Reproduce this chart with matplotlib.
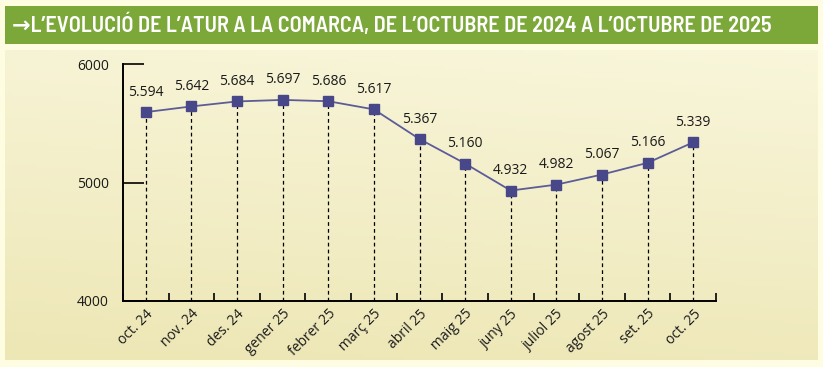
import numpy as np
import matplotlib
matplotlib.use('Agg')
import matplotlib.pyplot as plt
from matplotlib.patches import Rectangle

# data
months = ['oct. 24', 'nov. 24', 'des. 24', 'gener 25', 'febrer 25', 'març 25', 'abril 25',
          'maig 25', 'juny 25', 'juliol 25', 'agost 25', 'set. 25', 'oct. 25']
atur = [5594, 5642, 5684, 5697, 5686, 5617, 5367, 5160, 4932, 4982, 5067, 5166, 5339]
labels = ['5.594', '5.642', '5.684', '5.697', '5.686', '5.617', '5.367',
          '5.160', '4.932', '4.982', '5.067', '5.166', '5.339']
yticks = [4000, 5000, 6000]
title = '\u2192L\u2019EVOLUCI\u00d3 DE L\u2019ATUR A LA COMARCA, DE L\u2019OCTUBRE DE 2024 A L\u2019OCTUBRE DE 2025'

W, H = 823, 367
fig = plt.figure(figsize=(W / 100, H / 100), dpi=100)
fig.patch.set_facecolor('#fefde2')

# green title bar
fig.patches.append(Rectangle((5 / W, 1 - 44 / H), 813 / W, 38 / H, transform=fig.transFigure,
                             facecolor='#7ca83a', edgecolor='none', zorder=0))
fig.text(12 / W, 1 - 25 / H, title, color='white', fontsize=16, fontweight=600,
         family=['Barlow Semi Condensed', 'Barlow Condensed', 'DejaVu Sans'],
         va='center', ha='left')

# panel with gradient
bg = fig.add_axes([5 / W, 1 - 360 / H, 813 / W, 310 / H], zorder=0)
yy, xx = np.mgrid[0:1:100j, 0:1:100j]
top = np.array([0.975, 0.965, 0.86])
bot = np.array([0.93, 0.905, 0.71])
t = np.clip(yy * 0.85 + (1 - xx) * 0.15, 0, 1)
img = top[None, None, :] * (1 - t[..., None]) + bot[None, None, :] * t[..., None]
bg.imshow(img, aspect='auto', extent=[0, 1, 1, 0])
bg.axis('off')

ax = fig.add_axes([123 / W, 1 - 301 / H, (716 - 123) / W, (301 - 64) / H], zorder=1)
ax.patch.set_alpha(0)
x = np.arange(len(months))

ax.vlines(x, 4000, atur, colors='black', linestyles=(0, (3, 2.5)), linewidth=0.9)
ax.plot(x, atur, color='#5c5c98', linewidth=1.3, marker='s', markersize=6.5,
        markerfacecolor='#48478a', markeredgecolor='#48478a', zorder=3)
for xi, v, lab in zip(x, atur, labels):
    ax.annotate(lab, (xi, v), xytext=(0, 9), textcoords='offset points', ha='center',
                va='bottom', fontsize=10, color='#1a1a1a', family='Open Sans')

ax.set_xlim(-0.5, len(months) - 0.5)
ax.set_ylim(4000, 6000)
ax.set_yticks(yticks)
ax.set_yticklabels([str(v) for v in yticks], fontsize=10, family='Open Sans', color='#1a1a1a')
ax.set_xticks(x)
ax.set_xticklabels(months, rotation=45, ha='right', rotation_mode='anchor',
                   fontsize=10, family='Open Sans', color='#1a1a1a')
ax.set_xticks(np.arange(-0.5, len(months)), minor=True)
ax.tick_params(axis='x', which='major', length=0, pad=4)
ax.tick_params(axis='x', which='minor', direction='in', length=6, width=1.2)
ax.tick_params(axis='y', direction='in', length=15, width=1.2, pad=10)
for s in ['top', 'right']:
    ax.spines[s].set_visible(False)
for s in ['left', 'bottom']:
    ax.spines[s].set_linewidth(1.4)

fig.savefig('out.png', dpi=100, facecolor=fig.get_facecolor())
